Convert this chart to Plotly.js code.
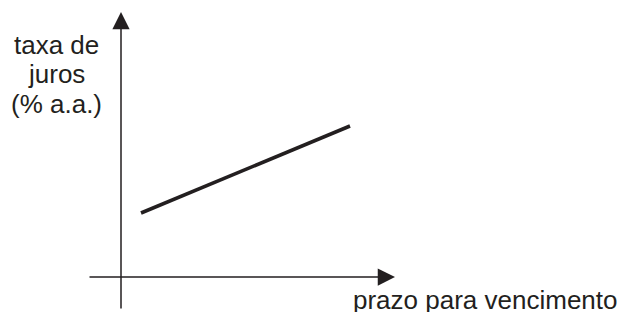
<!DOCTYPE html>
<html>
<head>
<meta charset="utf-8">
<script src="https://cdn.plot.ly/plotly-3.0.1.min.js"></script>
<style>html,body{margin:0;padding:0;background:#fff;}#chart{width:618px;height:312px;}</style>
</head>
<body>
<div id="chart"></div>
<script>
// Conceptual yield curve (upward sloping)
const prazo = [1, 11.45];          // prazo para vencimento (arbitrary units)
const taxa = [3.2, 7.55];          // taxa de juros (% a.a., arbitrary units)
const eixoX = [-1.65, 13.7];       // extent of horizontal axis arrow
const eixoY = [-1.65, 13.25];      // extent of vertical axis arrow
const rotuloY = ["taxa de", "juros", "(% a.a.)"];
const rotuloX = "prazo para vencimento";

const font = {family: "Liberation Sans, Arial, sans-serif", size: 26, color: "#231f20"};
const linhaY = [0.8755, 0.766, 0.653];   // paper positions of the y-label lines

const annotations = [
  {x: eixoX[1], y: 0, xref: "x", yref: "y", ax: eixoX[0], ay: 0, axref: "x", ayref: "y",
   text: "", showarrow: true, arrowhead: 2, arrowsize: 2.3, arrowwidth: 1.5, arrowcolor: "#231f20"},
  {x: 0, y: eixoY[1], xref: "x", yref: "y", ax: 0, ay: eixoY[0], axref: "x", ayref: "y",
   text: "", showarrow: true, arrowhead: 2, arrowsize: 2.3, arrowwidth: 1.5, arrowcolor: "#231f20"},
  {x: 1.329, y: -0.086, xref: "paper", yref: "paper", text: rotuloX, showarrow: false,
   xanchor: "center", yanchor: "middle", font: font}
];
rotuloY.forEach((t, i) => annotations.push({
  x: -0.234, y: linhaY[i], xref: "paper", yref: "paper", text: t, showarrow: false,
  xanchor: "center", yanchor: "middle", font: font
}));

const data = [{
  x: prazo, y: taxa, type: "scatter", mode: "lines",
  line: {color: "#231f20", width: 3.6}, hoverinfo: "skip", cliponaxis: false
}];

const layout = {
  width: 618, height: 312,
  margin: {l: 121, r: 223, t: 12, b: 35, pad: 0},
  paper_bgcolor: "#fff", plot_bgcolor: "#fff",
  showlegend: false,
  xaxis: {range: [0, eixoX[1]], visible: false, fixedrange: true},
  yaxis: {range: [0, eixoY[1]], visible: false, fixedrange: true},
  annotations: annotations
};

Plotly.newPlot("chart", data, layout, {staticPlot: true, displayModeBar: false});
</script>
</body>
</html>
